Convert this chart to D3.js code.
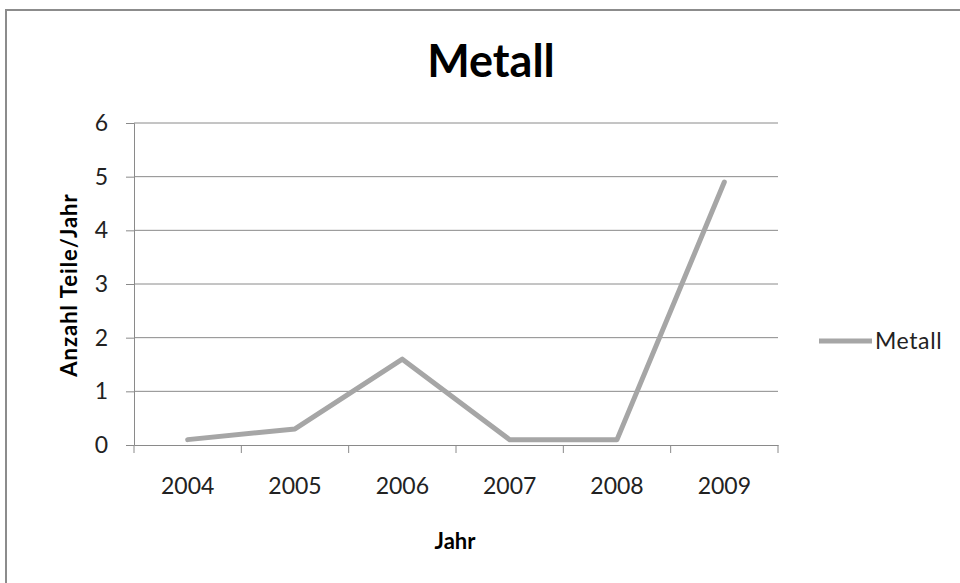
<!DOCTYPE html>
<html>
<head>
<meta charset="utf-8">
<script src="https://cdn.jsdelivr.net/npm/d3@7"></script>
<style>
  html, body { margin: 0; padding: 0; background: #fff; }
  svg { display: block; font-family: Lato, "Open Sans", sans-serif; }
</style>
</head>
<body>
<svg id="chart" width="960" height="583"></svg>
<script>
// Jahre und Anzahl Teile pro Jahr (Metall)
const years = ["2004", "2005", "2006", "2007", "2008", "2009"];
const metall = [0.1, 0.3, 1.6, 0.1, 0.1, 4.9];
const yTicks = [0, 1, 2, 3, 4, 5, 6];
const seriesName = "Metall";
const chartTitle = "Metall";
const xTitle = "Jahr";
const yTitle = "Anzahl Teile/Jahr";

const svg = d3.select("#chart");
const W = 960, H = 583;
const plot = { left: 134, right: 778, top: 123, bottom: 445 };
const axisColor = "#8a8a8a";
const lineColor = "#a6a6a6";

// outer frame of the chart area
svg.append("rect")
  .attr("x", 6).attr("y", 10)
  .attr("width", W + 10).attr("height", H + 10)
  .attr("fill", "#fff").attr("stroke", "#8c8c8c").attr("stroke-width", 2);

const x = d3.scaleBand().domain(years).range([plot.left, plot.right]).padding(0);
const y = d3.scaleLinear().domain([0, 6]).range([plot.bottom, plot.top]);

// horizontal gridlines
svg.append("g")
  .selectAll("line")
  .data(yTicks.filter(d => d > 0))
  .join("line")
  .attr("x1", plot.left).attr("x2", plot.right)
  .attr("y1", d => y(d)).attr("y2", d => y(d))
  .attr("stroke", axisColor).attr("stroke-width", 1);

// y axis
const yAxis = svg.append("g")
  .attr("transform", `translate(${plot.left},0)`)
  .call(d3.axisLeft(y).tickValues(yTicks).tickSize(8).tickPadding(18).tickFormat(d3.format("d")));
yAxis.selectAll(".domain, .tick line").attr("stroke", axisColor);
yAxis.selectAll(".tick text")
  .attr("font-size", 23).attr("fill", "#222").attr("font-family", "Lato, sans-serif");

// x axis, tick marks on the category boundaries
const xAxis = svg.append("g")
  .attr("transform", `translate(0,${plot.bottom})`)
  .call(d3.axisBottom(x).tickSize(0).tickPadding(33));
xAxis.select(".domain").attr("stroke", axisColor);
xAxis.selectAll(".tick text")
  .attr("font-size", 23).attr("fill", "#222").attr("font-family", "Lato, sans-serif");
svg.append("g")
  .selectAll("line")
  .data(years.map(d => x(d)).concat([x(years[years.length - 1]) + x.bandwidth()]))
  .join("line")
  .attr("x1", d => d).attr("x2", d => d)
  .attr("y1", plot.bottom).attr("y2", plot.bottom + 8)
  .attr("stroke", axisColor);

// series line
const line = d3.line()
  .x((d, i) => x(years[i]) + x.bandwidth() / 2)
  .y(d => y(d));
svg.append("path")
  .datum(metall)
  .attr("d", line)
  .attr("fill", "none")
  .attr("stroke", lineColor)
  .attr("stroke-width", 5)
  .attr("stroke-linejoin", "round")
  .attr("stroke-linecap", "round");

// title
svg.append("text")
  .attr("x", 491).attr("y", 77)
  .attr("text-anchor", "middle")
  .attr("font-size", 45).attr("font-weight", "bold").attr("fill", "#000")
  .text(chartTitle);

// axis titles
svg.append("text")
  .attr("x", 455).attr("y", 549)
  .attr("text-anchor", "middle")
  .attr("font-size", 22).attr("font-weight", "bold").attr("fill", "#000")
  .text(xTitle);
svg.append("text")
  .attr("transform", "translate(77,285) rotate(-90)")
  .attr("text-anchor", "middle")
  .attr("font-size", 22).attr("font-weight", "bold").attr("fill", "#000")
  .attr("letter-spacing", 1)
  .text(yTitle);

// legend
const lg = svg.append("g").attr("transform", "translate(819,341)");
lg.append("line")
  .attr("x1", 0).attr("x2", 53).attr("y1", 0).attr("y2", 0)
  .attr("stroke", lineColor).attr("stroke-width", 5);
lg.append("text")
  .attr("x", 56).attr("y", 8)
  .attr("font-size", 23).attr("fill", "#222")
  .attr("letter-spacing", 0.6)
  .text(seriesName);
</script>
</body>
</html>
